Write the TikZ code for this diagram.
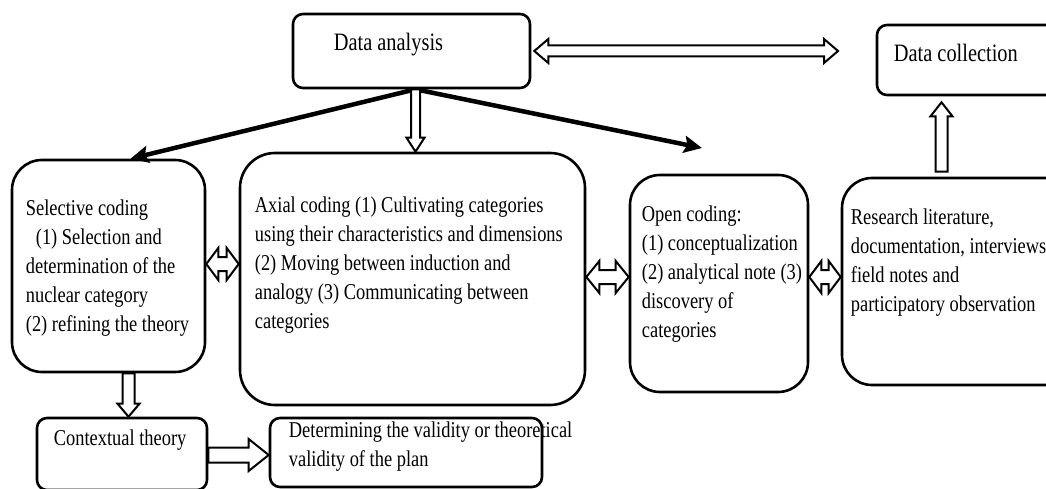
\documentclass[tikz,border=0pt]{standalone}
\usepackage{fontspec}
\setmainfont{Liberation Serif}[FakeStretch=0.815]
\usetikzlibrary{calc,arrows.meta}
\tikzset{
  box/.style={draw, line width=2.6pt, rounded corners=#1, inner sep=0pt},
  txt/.style={inner sep=0pt, align=left, anchor=north west, font=\fontsize{22.6pt}{29pt}\selectfont},
  bigtxt/.style={inner sep=0pt, align=left, anchor=north west, font=\fontsize{25pt}{30pt}\selectfont},
  hollow/.style={draw=black, line width=2pt, fill=white, line join=miter},
  blk/.style={line width=4.5pt, -{Stealth[length=18pt,width=17pt,inset=3pt]}}
}
% single hollow arrow: start, end, shaft half width, head half width, head length
\newcommand{\sarrow}[5]{%
  \draw[hollow] ($(#1)!#3!90:(#2)$) -- ($(#2)!#5!(#1)!#3!-90:(#1)$) -- ($(#2)!#5!(#1)!#4!-90:(#1)$)
   -- (#2) -- ($(#2)!#5!(#1)!#4!90:(#1)$) -- ($(#2)!#5!(#1)!#3!90:(#1)$) -- ($(#1)!#3!-90:(#2)$) -- cycle;}
% double hollow arrow
\newcommand{\darrow}[5]{%
  \draw[hollow] (#1) -- ($(#1)!#5!(#2)!#4!90:(#2)$) -- ($(#1)!#5!(#2)!#3!90:(#2)$)
   -- ($(#2)!#5!(#1)!#3!-90:(#1)$) -- ($(#2)!#5!(#1)!#4!-90:(#1)$) -- (#2)
   -- ($(#2)!#5!(#1)!#4!90:(#1)$) -- ($(#2)!#5!(#1)!#3!90:(#1)$)
   -- ($(#1)!#5!(#2)!#3!-90:(#2)$) -- ($(#1)!#5!(#2)!#4!-90:(#2)$) -- cycle;}
\begin{document}
\begin{tikzpicture}[x=1pt,y=-1pt]
\useasboundingbox (0,0) rectangle (1046,489);
% boxes
\node[box=10pt, minimum width=237pt, minimum height=74pt] (da) at (411.5,51) {};
\node[box=10pt, minimum width=183pt, minimum height=70pt] (dc) at (968.5,60) {};
\node[box=30pt, minimum width=193pt, minimum height=212pt] (sel) at (108.5,266) {};
\node[box=35pt, minimum width=345pt, minimum height=252pt] (ax) at (412.5,279) {};
\node[box=30pt, minimum width=178pt, minimum height=217pt] (op) at (719,283.5) {};
\node[box=30pt, minimum width=233pt, minimum height=207pt] (rs) at (958.5,281.5) {};
\node[box=10pt, minimum width=170pt, minimum height=72pt] (ct) at (122,454) {};
\node[box=10pt, minimum width=272pt, minimum height=69pt] (dt) at (406,452.5) {};
% texts
\node[bigtxt] (daT) at ([shift={(42,20)}]da.north west) {Data analysis};
\node[bigtxt] (dcT) at ([shift={(18,20)}]dc.north west) {Data collection};
\node[txt] (selT) at ([shift={(15,41)}]sel.north west) {Selective coding\\\hspace*{10pt}(1) Selection and\\determination of the\\nuclear category\\(2) refining the theory};
\node[txt] (axT) at ([shift={(16,45)}]ax.north west) {Axial coding (1) Cultivating categories\\using their characteristics and dimensions\\(2) Moving between induction and\\analogy (3) Communicating between\\categories};
\node[txt] (opT) at ([shift={(13,32)}]op.north west) {Open coding:\\(1) conceptualization\\(2) analytical note (3)\\discovery of\\categories};
\node[txt] (rsT) at ([shift={(10,32)}]rs.north west) {Research literature,\\documentation, interviews\\field notes and\\participatory observation};
\node[txt] (ctT) at ([shift={(18,13)}]ct.north west) {Contextual theory};
\node[txt] (dtT) at ([shift={(20,5)}]dt.north west) {Determining the validity or theoretical\\validity of the plan};
% coordinates
\coordinate (dA) at ([shift={(4,0)}]da.south);
\coordinate (dB) at (dA |- ax.north);
\coordinate (selIn) at ([shift={(22,0)}]sel.north);
\coordinate (opIn) at (702,148);
\coordinate (sA) at ([shift={(20,0)}]sel.south);
\coordinate (sB) at (sA |- ct.north);
\coordinate (cA) at ([shift={(0,1)}]ct.east);
\coordinate (cB) at (cA -| dt.west);
\coordinate (rA) at ([shift={(-17,-5)}]rs.north);
\coordinate (rB0) at (rA |- dc.south);
\coordinate (rB) at ([shift={(0,6)}]rB0);
\coordinate (tA) at ([shift={(3,0)}]da.east);
\coordinate (tB) at (838,51);
\coordinate (b1a) at ([shift={(0,-2)}]sel.east);
\coordinate (b1b) at (b1a -| ax.west);
\coordinate (b2a) at ([shift={(0,-2)}]ax.east);
\coordinate (b2b) at (b2a -| op.west);
\coordinate (b3a) at ([shift={(0,-6.5)}]op.east);
\coordinate (b3b) at (b3a -| rs.west);
% black arrows
\draw[blk] (dA) -- (selIn);
\draw[blk] (dA) -- (opIn);
% hollow arrows
\sarrow{dA}{dB}{4.5pt}{9pt}{14pt}
\sarrow{sA}{sB}{6pt}{11pt}{13pt}
\sarrow{cA}{cB}{7.5pt}{16pt}{20pt}
\sarrow{rA}{rB}{6pt}{11pt}{14pt}
\darrow{tA}{tB}{5.5pt}{12pt}{14pt}
\darrow{b1a}{b1b}{7pt}{16pt}{12pt}
\darrow{b2a}{b2b}{7pt}{16pt}{13pt}
\darrow{b3a}{b3b}{7pt}{16pt}{12pt}
\end{tikzpicture}
\end{document}
